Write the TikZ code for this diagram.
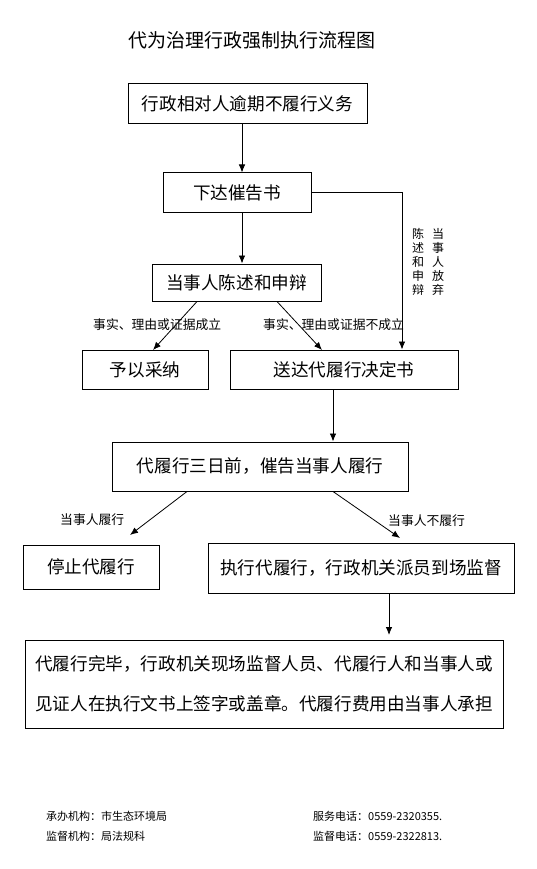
\documentclass[tikz,border=0pt]{standalone}
\usepackage{fontspec}
\setmainfont{Noto Sans CJK SC}
\usetikzlibrary{arrows.meta}
\tikzset{
  box/.style={draw=black, line width=1pt, inner sep=0pt, font=\fontsize{17.6}{20}\selectfont},
  arr/.style={line width=0.8pt, -{Latex[length=8pt,width=6.5pt]}},
  lbl/.style={inner sep=0pt, anchor=west, font=\fontsize{12.8}{14}\selectfont},
  vlbl/.style={inner sep=0pt, anchor=north, align=center, font=\fontsize{12}{14}\selectfont},
  foot/.style={inner sep=0pt, anchor=west, font=\fontsize{11}{12}\selectfont},
}
\begin{document}
\begin{tikzpicture}[x=1pt,y=-1pt]
\useasboundingbox[fill=white] (0,0) rectangle (537,869);
\node[inner sep=0pt, font=\fontsize{19}{22}\selectfont] (title) at (252,40) {代为治理行政强制执行流程图};

\node[box, minimum width=239pt, minimum height=40pt] (b1) at (247.5,104) {行政相对人逾期不履行义务};
\node[box, minimum width=148pt, minimum height=39pt] (b2) at (237,192.5) {下达催告书};
\node[box, minimum width=169pt, minimum height=37pt] (b3) at (236.5,282.5) {当事人陈述和申辩};
\node[box, minimum width=126pt, minimum height=39pt] (b4) at (145,369.5) {予以采纳};
\node[box, minimum width=228pt, minimum height=39pt] (b5) at (344,369.5) {送达代履行决定书};
\node[box, minimum width=296pt, minimum height=49pt] (b6) at (260,466.5) {代履行三日前，催告当事人履行};
\node[box, minimum width=136pt, minimum height=44pt] (b7) at (91,567) {停止代履行};
\node[box, minimum width=306pt, minimum height=50pt] (b8) at (361,568) {执行代履行，行政机关派员到场监督};
\node[box, minimum width=478pt, minimum height=88pt, align=left,
      font=\fontsize{17.6}{40}\selectfont] (b9) at (264,684)
  {代履行完毕，行政机关现场监督人员、代履行人和当事人或\\见证人在执行文书上签字或盖章。代履行费用由当事人承担};

\coordinate (xa) at (242,0);
\coordinate (xb) at (333,0);
\coordinate (xr) at (402,0);
\coordinate (e1) at (153,350);
\coordinate (e2) at (322,350);
\coordinate (e3) at (130,535);
\coordinate (e4) at (400,538);
\coordinate (e5) at (389,635);

\draw[arr] (b1.south -| xa) -- (b2.north -| xa);
\draw[arr] (b2.south -| xa) -- (b3.north -| xa);
\draw[arr] (b2.east) -| (b5.north -| xr);
\draw[arr] ([xshift=-39.5pt]b3.south) -- (e1);
\draw[arr] ([xshift=40.5pt]b3.south) -- (e2);
\draw[arr] (b5.south -| xb) -- (b6.north -| xb);
\draw[arr] ([xshift=-73pt]b6.south) -- (e3);
\draw[arr] ([xshift=73pt]b6.south) -- (e4);
\draw[arr] (b8.south -| e5) -- (e5);

\node[lbl] (l1) at (93,325) {事实、理由或证据成立};
\node[lbl] (l2) at (263,325) {事实、理由或证据不成立};
\node[lbl] (l3) at (60,520) {当事人履行};
\node[lbl] (l4) at (388,521) {当事人不履行};
\node[vlbl] (v1) at (438,228) {当\\事\\人\\放\\弃};
\node[vlbl] (v2) at (418,228) {陈\\述\\和\\申\\辩};

\node[foot] (f1) at (46,816) {承办机构：市生态环境局};
\node[foot] (f2) at (46,836) {监督机构：局法规科};
\node[foot] (f3) at (313,816) {服务电话：0559-2320355.};
\node[foot] (f4) at (313,836) {监督电话：0559-2322813.};
\end{tikzpicture}
\end{document}
